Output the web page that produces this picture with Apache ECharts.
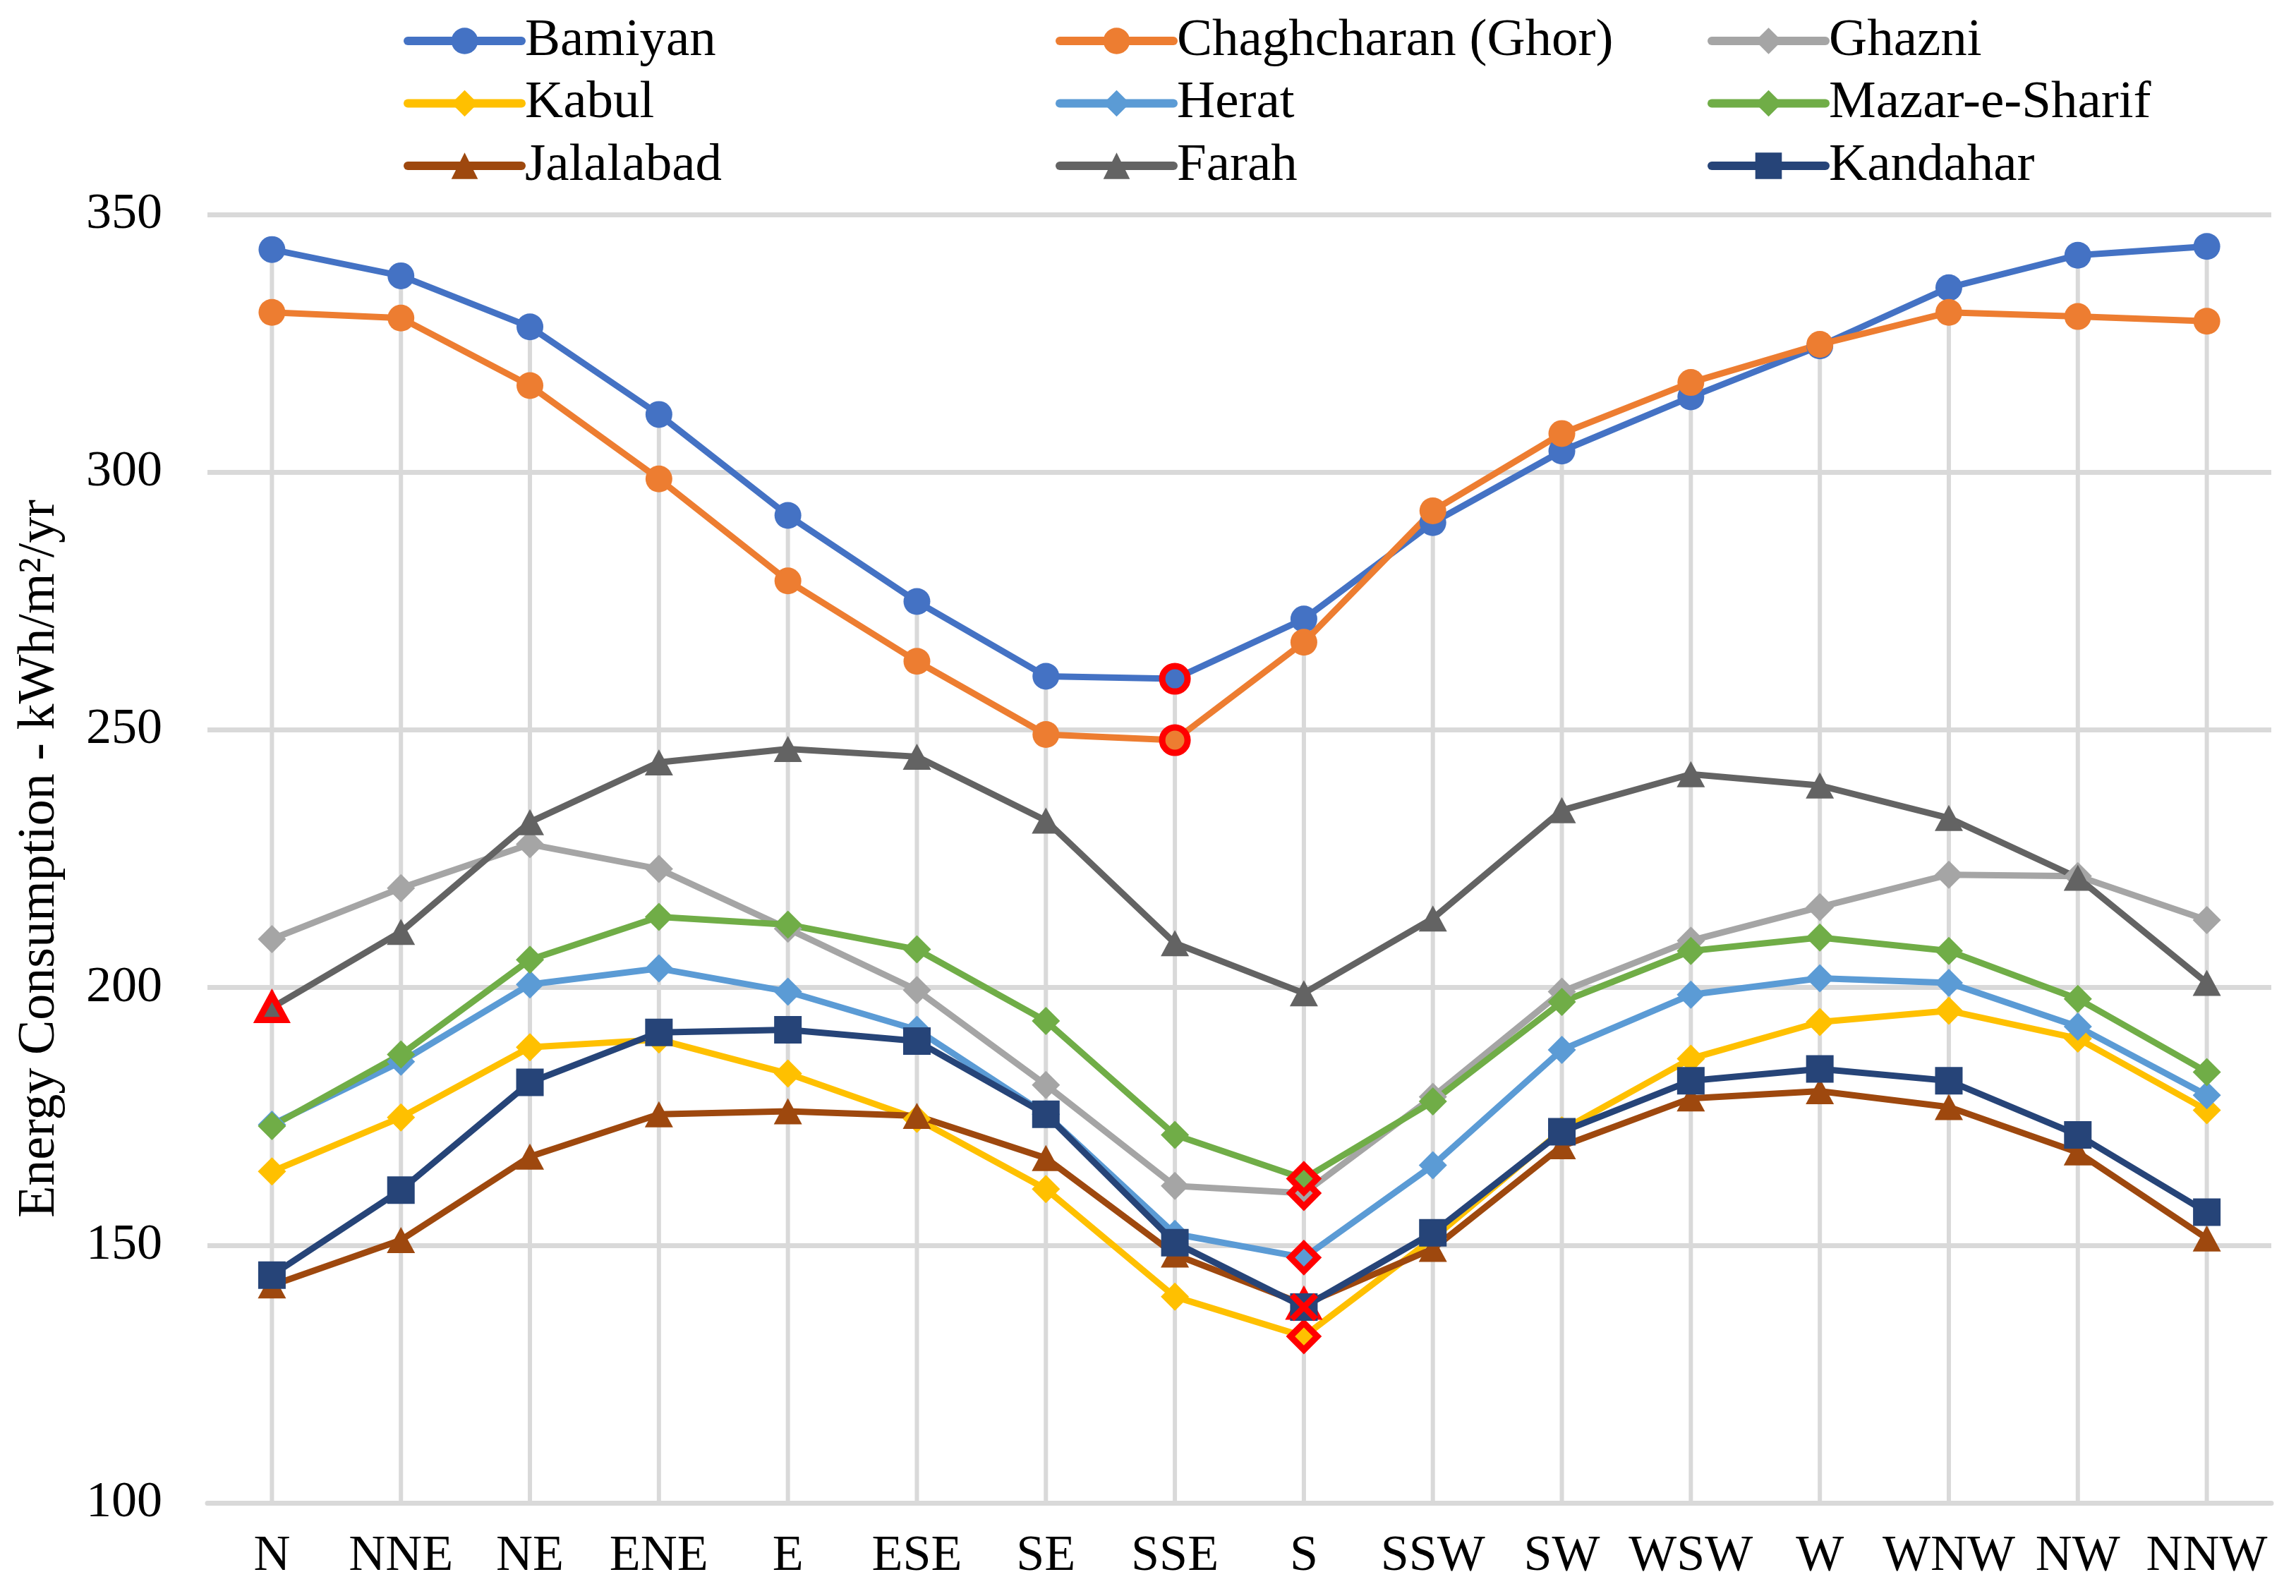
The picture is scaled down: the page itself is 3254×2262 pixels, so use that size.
<!DOCTYPE html>
<html>
<head>
<meta charset="utf-8">
<script src="https://cdn.jsdelivr.net/npm/echarts@6/dist/echarts.min.js"></script>
<style>
  html, body { margin: 0; padding: 0; background: #ffffff; }
  #chart { width: 3254px; height: 2262px; }
</style>
</head>
<body>
<div id="chart"></div>
<script>
// ---- Data ----
const categories = ['N','NNE','NE','ENE','E','ESE','SE','SSE','S','SSW','SW','WSW','W','WNW','NW','NNW'];
const yTicks = [100, 150, 200, 250, 300, 350];
const seriesNames = ['Bamiyan','Chaghcharan (Ghor)','Ghazni','Kabul','Herat','Mazar-e-Sharif','Jalalabad','Farah','Kandahar'];
const bamiyan     = [343.2,338.1,328.2,311.2,291.6,274.9,260.4,259.9,271.5,290.2,304.1,314.6,324.5,335.8,342.1,343.8];
const chaghcharan = [331.0,329.9,316.8,298.7,278.9,263.3,249.1,248.0,267.0,292.5,307.5,317.4,324.8,331.0,330.2,329.3];
const ghazni      = [209.4,219.3,227.8,223.0,211.4,199.5,181.1,161.5,160.1,178.8,199.2,209.1,215.6,221.9,221.6,213.1];
const kabul       = [164.3,174.8,188.4,189.9,183.3,174.5,160.9,140.0,132.3,151.3,172.3,186.2,193.3,195.5,190.1,176.2];
const herat       = [173.4,185.6,200.6,203.7,199.2,191.8,175.4,152.2,147.6,165.5,187.9,198.6,201.8,200.9,192.4,179.1];
const mazar       = [173.1,187.0,205.4,213.7,212.2,207.4,193.5,171.4,162.9,177.9,197.2,207.1,209.7,207.1,197.8,183.6];
const jalalabad   = [142.2,151.0,167.2,175.4,176.0,175.1,166.9,148.2,138.5,149.3,169.2,178.5,179.9,176.8,168.0,151.3];
const farah       = [196.1,210.8,232.1,243.7,246.3,244.8,232.4,208.6,198.9,213.4,234.4,241.4,239.2,232.9,221.3,200.9];
const kandahar    = [144.2,160.7,181.6,191.3,191.8,189.6,175.4,150.5,138.0,152.4,172.0,181.9,184.2,181.9,171.4,156.4];
const allValues = [bamiyan, chaghcharan, ghazni, kabul, herat, mazar, jalalabad, farah, kandahar];

// ---- Styles ----
const colors  = ['#4472C4','#ED7D31','#A5A5A5','#FFC000','#5B9BD5','#70AD47','#9E480E','#636363','#264478'];
const symbols = ['circle','circle','diamond','diamond','diamond','diamond','triangle','triangle','rect'];
const sizes   = [38, 38, 40, 40, 40, 40, [40,37], [40,37], 39];
const highlightKind = ['ring','ring','ring','ring','ring','ring','ring','ring','x'];
const FONT = '"Liberation Serif", "Times New Roman", serif';
const X_PATH = 'path://M3,0 L10,7 L17,0 L20,3 L13,10 L20,17 L17,20 L10,13 L3,20 L0,17 L7,10 L0,3 Z';

function argMin(arr) { let k = 0; arr.forEach((v, i) => { if (v < arr[k]) k = i; }); return k; }

const lineSeries = seriesNames.map((name, si) => {
  const vals = allValues[si];
  const mi = argMin(vals);
  const kind = highlightKind[si];
  const data = vals.map((v, i) => {
    if (i === mi && kind === 'ring') {
      const s = sizes[si];
      const hs = Array.isArray(s) ? [s[0] - 2, s[1] - 2] : s - 2;
      return { value: v, symbolSize: hs, itemStyle: { borderColor: '#FF0000', borderWidth: 9 } };
    }
    return v;
  });
  const s = {
    name: name,
    type: 'line',
    data: data,
    symbol: symbols[si],
    symbolSize: sizes[si],
    showAllSymbol: true,
    color: colors[si],
    itemStyle: { color: colors[si], borderWidth: 0 },
    lineStyle: { color: colors[si], width: 9, cap: 'round', join: 'round' },
    z: 3,
    animation: false
  };
  if (kind === 'x') {
    s.markPoint = {
      symbol: X_PATH,
      symbolSize: 40,
      itemStyle: { color: '#FF0000' },
      label: { show: false },
      silent: true,
      data: [{ coord: [categories[mi], vals[mi]] }]
    };
  }
  return s;
});

// drop lines: from axis to highest value in each category
const dropTop = categories.map((c, i) => Math.max(...allValues.map(a => a[i])));

const legendCols = [[0, 3, 6], [1, 4, 7], [2, 5, 8]];
const legendLeft = [572, 1496, 2420];
const legends = legendCols.map((col, ci) => ({
  orient: 'vertical',
  left: legendLeft[ci],
  top: 14,
  padding: 0,
  itemGap: 0.5,
  itemWidth: 161,
  itemHeight: 47,
  selectedMode: false,
  data: col.map(k => seriesNames[k]),
  lineStyle: { width: 12, cap: 'round' },
  textStyle: { fontFamily: FONT, fontSize: 75, color: '#000000', lineHeight: 88, padding: [0, 0, 0, 0] }
}));

const chart = echarts.init(document.getElementById('chart'), null, { renderer: 'canvas' });
chart.setOption({
  backgroundColor: '#ffffff',
  animation: false,
  legend: legends,
  grid: { left: 294, right: 35, top: 304, bottom: 132, containLabel: false },
  xAxis: {
    type: 'category',
    data: categories,
    boundaryGap: true,
    axisLine: { show: true, lineStyle: { color: '#D9D9D9', width: 7 } },
    axisTick: { show: false },
    axisLabel: { fontFamily: FONT, fontSize: 72, color: '#000000', margin: 40, interval: 0 },
    splitLine: { show: false }
  },
  yAxis: {
    type: 'value',
    min: yTicks[0],
    max: yTicks[yTicks.length - 1],
    interval: yTicks[1] - yTicks[0],
    name: 'Energy Consumption - kWh/m²/yr',
    nameLocation: 'middle',
    nameGap: 200,
    nameTextStyle: { fontFamily: FONT, fontSize: 74, color: '#000000' },
    axisLine: { show: false },
    axisTick: { show: false },
    axisLabel: { fontFamily: FONT, fontSize: 72, color: '#000000', margin: 64 },
    splitLine: { show: true, lineStyle: { color: '#D9D9D9', width: 7 } }
  },
  series: [
    {
      name: 'drop',
      type: 'bar',
      data: dropTop,
      barWidth: 6,
      itemStyle: { color: '#D9D9D9' },
      silent: true,
      z: 1,
      clip: true,
      animation: false
    }
  ].concat(lineSeries)
});
</script>
</body>
</html>
